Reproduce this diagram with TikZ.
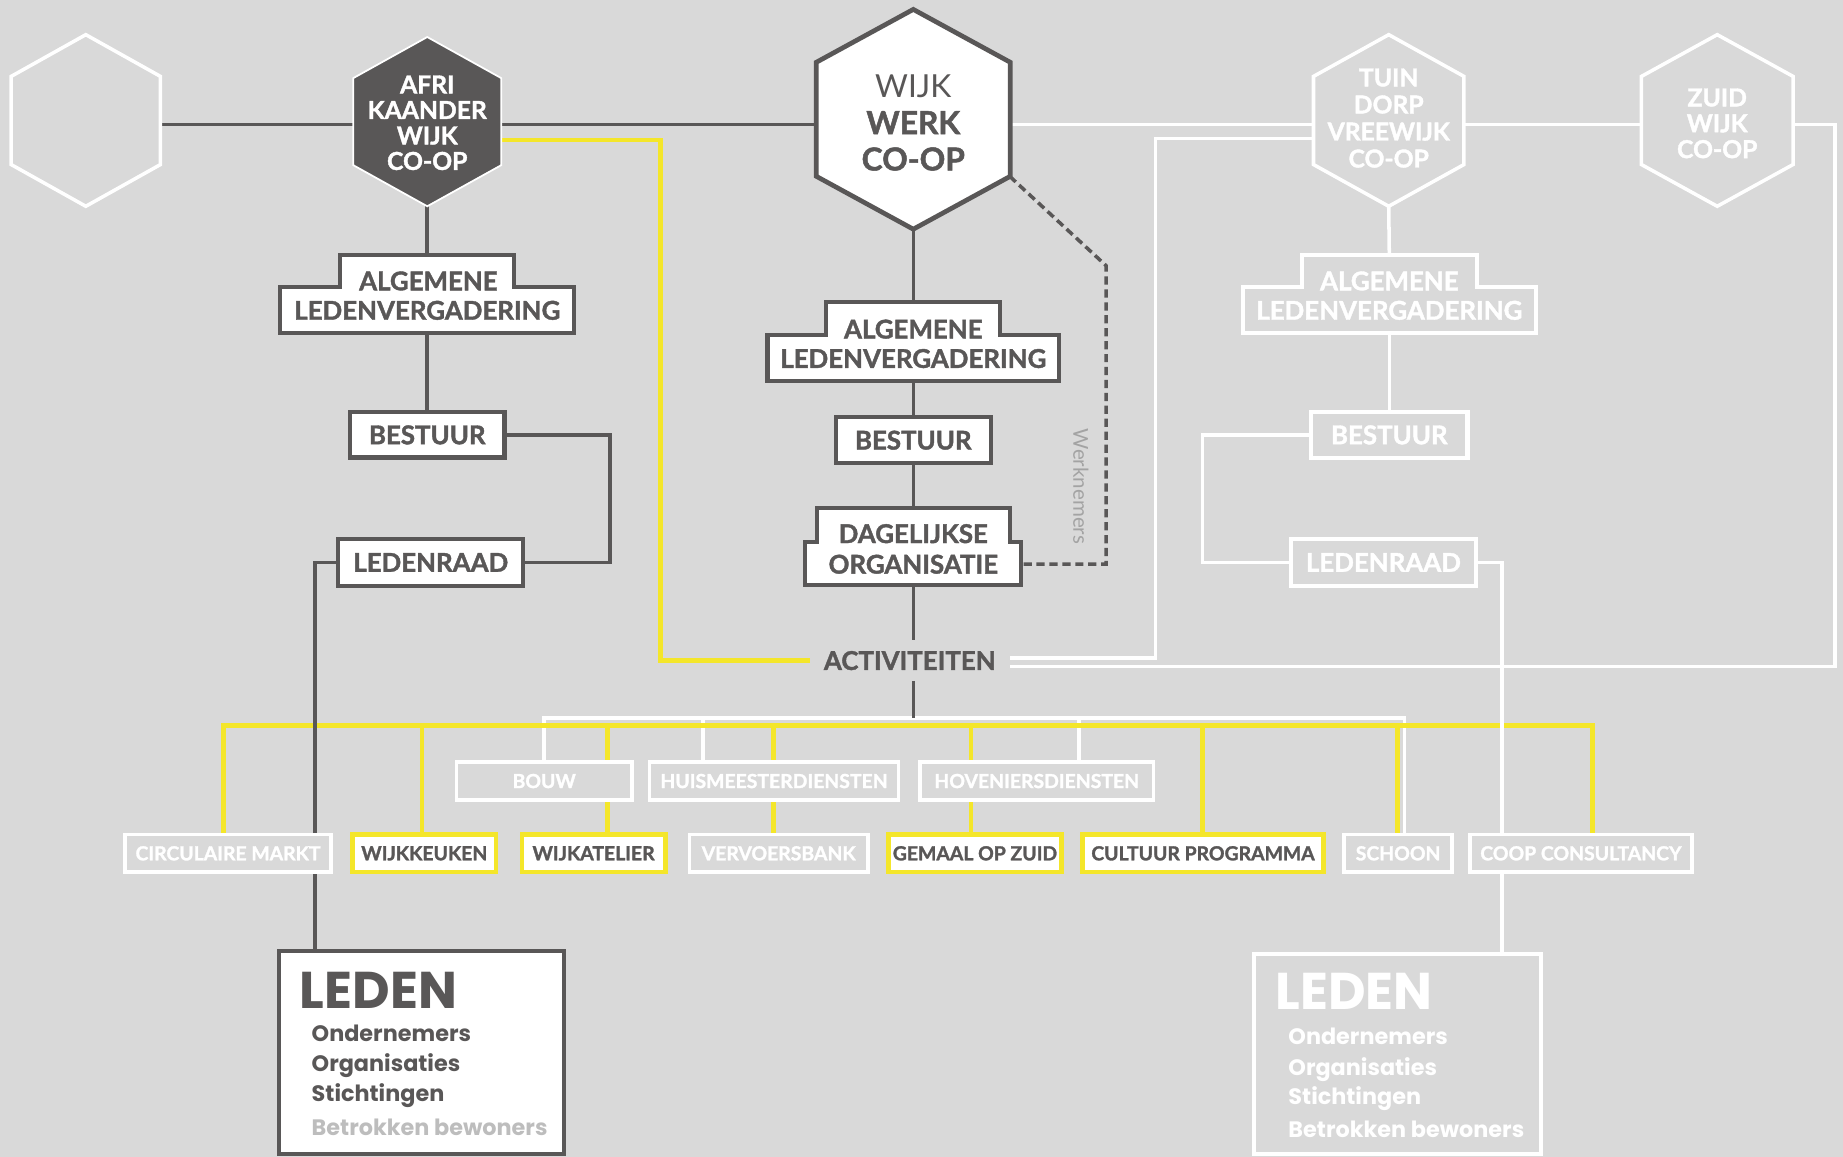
\documentclass[tikz,border=0pt]{standalone}
\usepackage{fontspec}
\setmainfont{Lato}[BoldFeatures={FakeBold=1.5}]
\newfontfamily\popfont{Poppins}
\usetikzlibrary{calc}
\definecolor{bgc}{HTML}{D9D9D9}
\definecolor{drk}{HTML}{595757}
\definecolor{ylw}{HTML}{F4E62A}
\definecolor{ltg}{HTML}{BDBDBD}
\definecolor{wkg}{HTML}{A3A3A3}
\pgfdeclarelayer{bgcol}
\pgfdeclarelayer{background}
\pgfsetlayers{bgcol,background,main}

\newcommand\myhex[7]{%
  \path[#7] (#2,#3-#5) -- (#2+#4,#3-#6) -- (#2+#4,#3+#6) -- (#2,#3+#5) -- (#2-#4,#3+#6) -- (#2-#4,#3-#6) -- cycle;
  \node[inner sep=0pt, outer sep=0pt, minimum width={2*#4pt}, minimum height={2*#5pt}] (#1) at (#2,#3) {};}
\newcommand\mystep[8]{%
  \path[#8] (#2-#6,#3) -- (#2+#6,#3) -- (#2+#6,#4) -- (#2+#7,#4) -- (#2+#7,#5) -- (#2-#7,#5) -- (#2-#7,#4) -- (#2-#6,#4) -- cycle;
  \node[inner sep=0pt, outer sep=0pt, minimum width={2*#7pt}, minimum height={(#5-#3)*1pt}] (#1) at (#2,{(#3+#5)/2}) {};}

\begin{document}
\begin{tikzpicture}[x=1pt,y=-1pt,
  dk/.style={draw=drk, line width=3pt},
  wt/.style={draw=white, line width=3pt},
  yl/.style={draw=ylw, line width=4pt},
  lbl/.style={font=\bfseries\fontsize{22}{24}\selectfont, text=drk, inner sep=0pt, anchor=base},
  wlbl/.style={lbl, text=white},
  dbox/.style={draw=drk, line width=3.5pt, fill=white, text=drk, font=\bfseries\fontsize{22}{24}\selectfont, inner sep=0pt},
  wbox/.style={draw=white, line width=3.5pt, text=white, font=\bfseries\fontsize{22}{24}\selectfont, inner sep=0pt},
  abox/.style={line width=3pt, inner sep=0pt, font=\bfseries\fontsize{16.5}{18}\selectfont, minimum height=32pt},
  awh/.style={abox, draw=white, fill=bgc, text=white},
  ayl/.style={abox, draw=ylw, line width=4pt, fill=white, text=drk},
  hext/.style={align=center, inner sep=0pt, font=\bfseries\fontsize{21}{21.7}\selectfont},
  ledbig/.style={anchor=base west, inner sep=0pt, font=\popfont\bfseries\fontsize{44}{44}\selectfont},
  ledsm/.style={anchor=base west, inner sep=0pt, font=\popfont\bfseries\fontsize{19}{19}\selectfont}
]
\begin{pgfonlayer}{bgcol}
\fill[bgc] (0,0) rectangle (1568,984);
\end{pgfonlayer}
\useasboundingbox (0,0) rectangle (1568,984);

% hexagons
\myhex{hexL}{73}{102.5}{63.5}{73}{37.5}{draw=white,line width=3pt}
\myhex{afri}{363.5}{103.5}{63}{72}{37}{fill=drk,draw=white,line width=1.5pt}
\myhex{wwc}{777}{101.5}{82.5}{93.5}{48.5}{fill=white,draw=drk,line width=4pt}
\myhex{tuin}{1181.5}{102.5}{64}{73}{37.5}{draw=white,line width=3pt}
\myhex{zuid}{1461}{102.5}{64.5}{73}{37.5}{draw=white,line width=3pt}

\node[hext, text=white] (afriT) at (363.5,104.5) {AFRI\\KAANDER\\WIJK\\CO-OP};
\node[hext, text=drk, font=\bfseries\fontsize{27}{31}\selectfont] (wwcT) at (777,104.5) {{\mdseries WIJK}\\WERK\\CO-OP};
\node[hext, text=white, font=\bfseries\fontsize{21}{23}\selectfont] (tuinT) at (1181.5,100.5) {TUIN\\DORP\\VREEWIJK\\CO-OP};
\node[hext, text=white, font=\bfseries\fontsize{21}{22}\selectfont] (zuidT) at (1461,105) {ZUID\\WIJK\\CO-OP};

% stepped boxes
\mystep{algA}{363.5}{217}{244}{283}{74}{125}{fill=white,draw=drk,line width=3.5pt}
\node[lbl] (algA1) at (364.5,247) {ALGEMENE};
\node[lbl] (algA2) at (363.5,272) {LEDENVERGADERING};
\mystep{algB}{777}{257}{285}{324}{74}{124}{fill=white,draw=drk,line width=3.5pt}
\node[lbl] (algB1) at (777,288) {ALGEMENE};
\node[lbl] (algB2) at (777,313) {LEDENVERGADERING};
\mystep{dag}{777}{432}{461}{498}{82}{92}{fill=white,draw=drk,line width=3.5pt}
\node[lbl] (dag1) at (777,462) {DAGELIJKSE};
\node[lbl] (dag2) at (777,488) {ORGANISATIE};
\mystep{algC}{1182}{217}{244}{283}{74.5}{124.5}{draw=white,line width=3.5pt}
\node[wlbl] (algC1) at (1182,247) {ALGEMENE};
\node[wlbl] (algC2) at (1182,272) {LEDENVERGADERING};

% simple boxes
\node[dbox, minimum width=131.5pt, minimum height=38.5pt] (besA) at (363.5,370) {BESTUUR};
\node[dbox, minimum width=157.5pt, minimum height=39.5pt] (ledA) at (366.5,478.5) {LEDENRAAD};
\node[dbox, minimum width=131.5pt, minimum height=39.5pt] (besB) at (777,374.5) {BESTUUR};
\node[wbox, minimum width=133pt, minimum height=39pt] (besC) at (1182,370) {BESTUUR};
\node[wbox, minimum width=157pt, minimum height=40pt] (ledC) at (1177,478.5) {LEDENRAAD};

\node[font=\bfseries\fontsize{22}{24}\selectfont, text=drk, inner xsep=12pt, inner ysep=9pt] (act) at (774,562) {ACTIVITEITEN};

\node[rotate=-90, inner sep=0pt, font=\fontsize{17.5}{18}\selectfont, text=wkg] (wkn) at (919.5,414) {Werknemers};

% activities
\node[awh, minimum width=149pt] (bouw) at (463,664.5) {BOUW};
\node[awh, minimum width=212pt] (huis) at (658.5,664.5) {HUISMEESTERDIENSTEN};
\node[awh, minimum width=199pt] (hov) at (882,664.5) {HOVENIERSDIENSTEN};
\node[awh, minimum width=175pt] (circ) at (194,726) {CIRCULAIRE MARKT};
\node[ayl, minimum width=122pt] (kk) at (361,726) {WIJKKEUKEN};
\node[ayl, minimum width=122pt] (atel) at (505,726) {WIJKATELIER};
\node[awh, minimum width=152pt] (verv) at (662.5,726) {VERVOERSBANK};
\node[ayl, minimum width=147pt] (gem) at (829.5,726) {GEMAAL OP ZUID};
\node[ayl, minimum width=205pt] (cult) at (1023.5,726) {CULTUUR PROGRAMMA};
\node[awh, minimum width=92pt] (schoon) at (1189.5,726) {SCHOON};
\node[awh, minimum width=189pt] (coop) at (1345,726) {COOP CONSULTANCY};

% leden boxes
\node[draw=drk, line width=3.5pt, fill=white, minimum width=243pt, minimum height=173pt, inner sep=0pt] (ledenA) at (358.5,895.5) {};
\node[ledbig, text=drk] (ledenA0) at (255,858) {LEDEN};
\node[ledsm, text=drk] (ledenA1) at (265,886) {Ondernemers};
\node[ledsm, text=drk] (ledenA2) at (265,912) {Organisaties};
\node[ledsm, text=drk] (ledenA3) at (265,937) {Stichtingen};
\node[ledsm, text=ltg] (ledenA4) at (265,966) {Betrokken bewoners};

\node[draw=white, line width=3.5pt, minimum width=244pt, minimum height=170pt, inner sep=0pt] (ledenC) at (1189,897) {};
\node[ledbig, text=white] (ledenC0) at (1085,859) {LEDEN};
\node[ledsm, text=white] (ledenC1) at (1096,889) {Ondernemers};
\node[ledsm, text=white] (ledenC2) at (1096,915) {Organisaties};
\node[ledsm, text=white] (ledenC3) at (1096,940) {Stichtingen};
\node[ledsm, text=white] (ledenC4) at (1096,968) {Betrokken bewoners};

\begin{pgfonlayer}{background}
% buses
\coordinate (wb1) at (463,611);
\coordinate (wb2) at (1195,611);
\coordinate (wb3) at (598,611);
\coordinate (wb4) at (918,611);
\draw[wt] (wb1 |- bouw.north) -- (wb1) -- (wb2) -- (wb2 |- schoon.north);
\draw[wt] (wb3) -- (wb3 |- huis.north);
\draw[wt] (wb4) -- (wb4 |- hov.north);
\coordinate (yb1) at (190,617);
\coordinate (yb2) at (359,617);
\coordinate (yb3) at (517,617);
\coordinate (yb4) at (658,617);
\coordinate (yb5) at (826,617);
\coordinate (yb6) at (1023,617);
\coordinate (yb7) at (1189,617);
\coordinate (yb8) at (1355,617);
\draw[yl] (yb1 |- circ.north) -- (yb1) -- (yb8) -- (yb8 |- coop.north);
\draw[yl] (yb2) -- (yb2 |- kk.north);
\draw[yl] (yb3) -- (yb3 |- atel.north);
\draw[yl] (yb4) -- (yb4 |- verv.north);
\draw[yl] (yb5) -- (yb5 |- gem.north);
\draw[yl] (yb6) -- (yb6 |- cult.north);
\draw[yl] (yb7) -- (yb7 |- schoon.north);

% top line
\coordinate (hl) at (0,106);
\draw[dk] (hexL.east |- hl) -- (afri.west |- hl);
\draw[dk] (afri.east |- hl) -- (wwc.west |- hl);
\draw[wt] (wwc.east |- hl) -- (tuin.west |- hl);
\draw[wt] (tuin.east |- hl) -- (zuid.west |- hl);
\coordinate (zr1) at (1561,106);
\coordinate (zr2) at (1561,567);
\draw[wt] (zuid.east |- hl) -- (zr1) -- (zr2) -- (zr2 -| act.east);
\coordinate (tl1) at (983,118);
\coordinate (tl2) at (983,560);
\draw[wt] (tuin.west |- tl1) -- (tl1) -- (tl2) -- (tl2 -| act.east);
\coordinate (ya1) at (562,119);
\coordinate (ya2) at (562,562);
\draw[yl] (afri.east |- ya1) -- (ya1) -- (ya2) -- (ya2 -| act.west);

% left column
\draw[dk] (afri.south) -- (algA.north);
\draw[dk] (algA.south) -- (besA.north);
\coordinate (ca) at (519,0);
\draw[dk] (besA.east) -| (ca |- ledA.east) -- (ledA.east);
\coordinate (cb) at (268,0);
\draw[dk] (ledA.west) -| (cb |- ledenA.north);

% centre column
\draw[dk] (wwc.south) -- (algB.north);
\draw[dk] (algB.south) -- (besB.north);
\draw[dk] (besB.south) -- (dag.north);
\draw[dk] (dag.south) -- (dag.south |- act.north);
\draw[dk] (dag.south |- act.south) -- (dag.south |- wb1);
\coordinate (wv) at (859,150);
\coordinate (d1) at (941,226);
\coordinate (d2) at (941,480);
\draw[dk, dash pattern=on 7pt off 4pt] (wv) -- (d1) -- (d2) -- (d2 -| dag.east);

% right column
\draw[wt] (tuin.south) -- (algC.north);
\draw[wt] (algC.south) -- (besC.north);
\coordinate (cc) at (1023,0);
\draw[wt] (besC.west) -| (cc |- ledC.west) -- (ledC.west);
\coordinate (cd) at (1278,0);
\draw[wt] (ledC.east) -| (cd |- ledenC.north);
\end{pgfonlayer}
\end{tikzpicture}
\end{document}
